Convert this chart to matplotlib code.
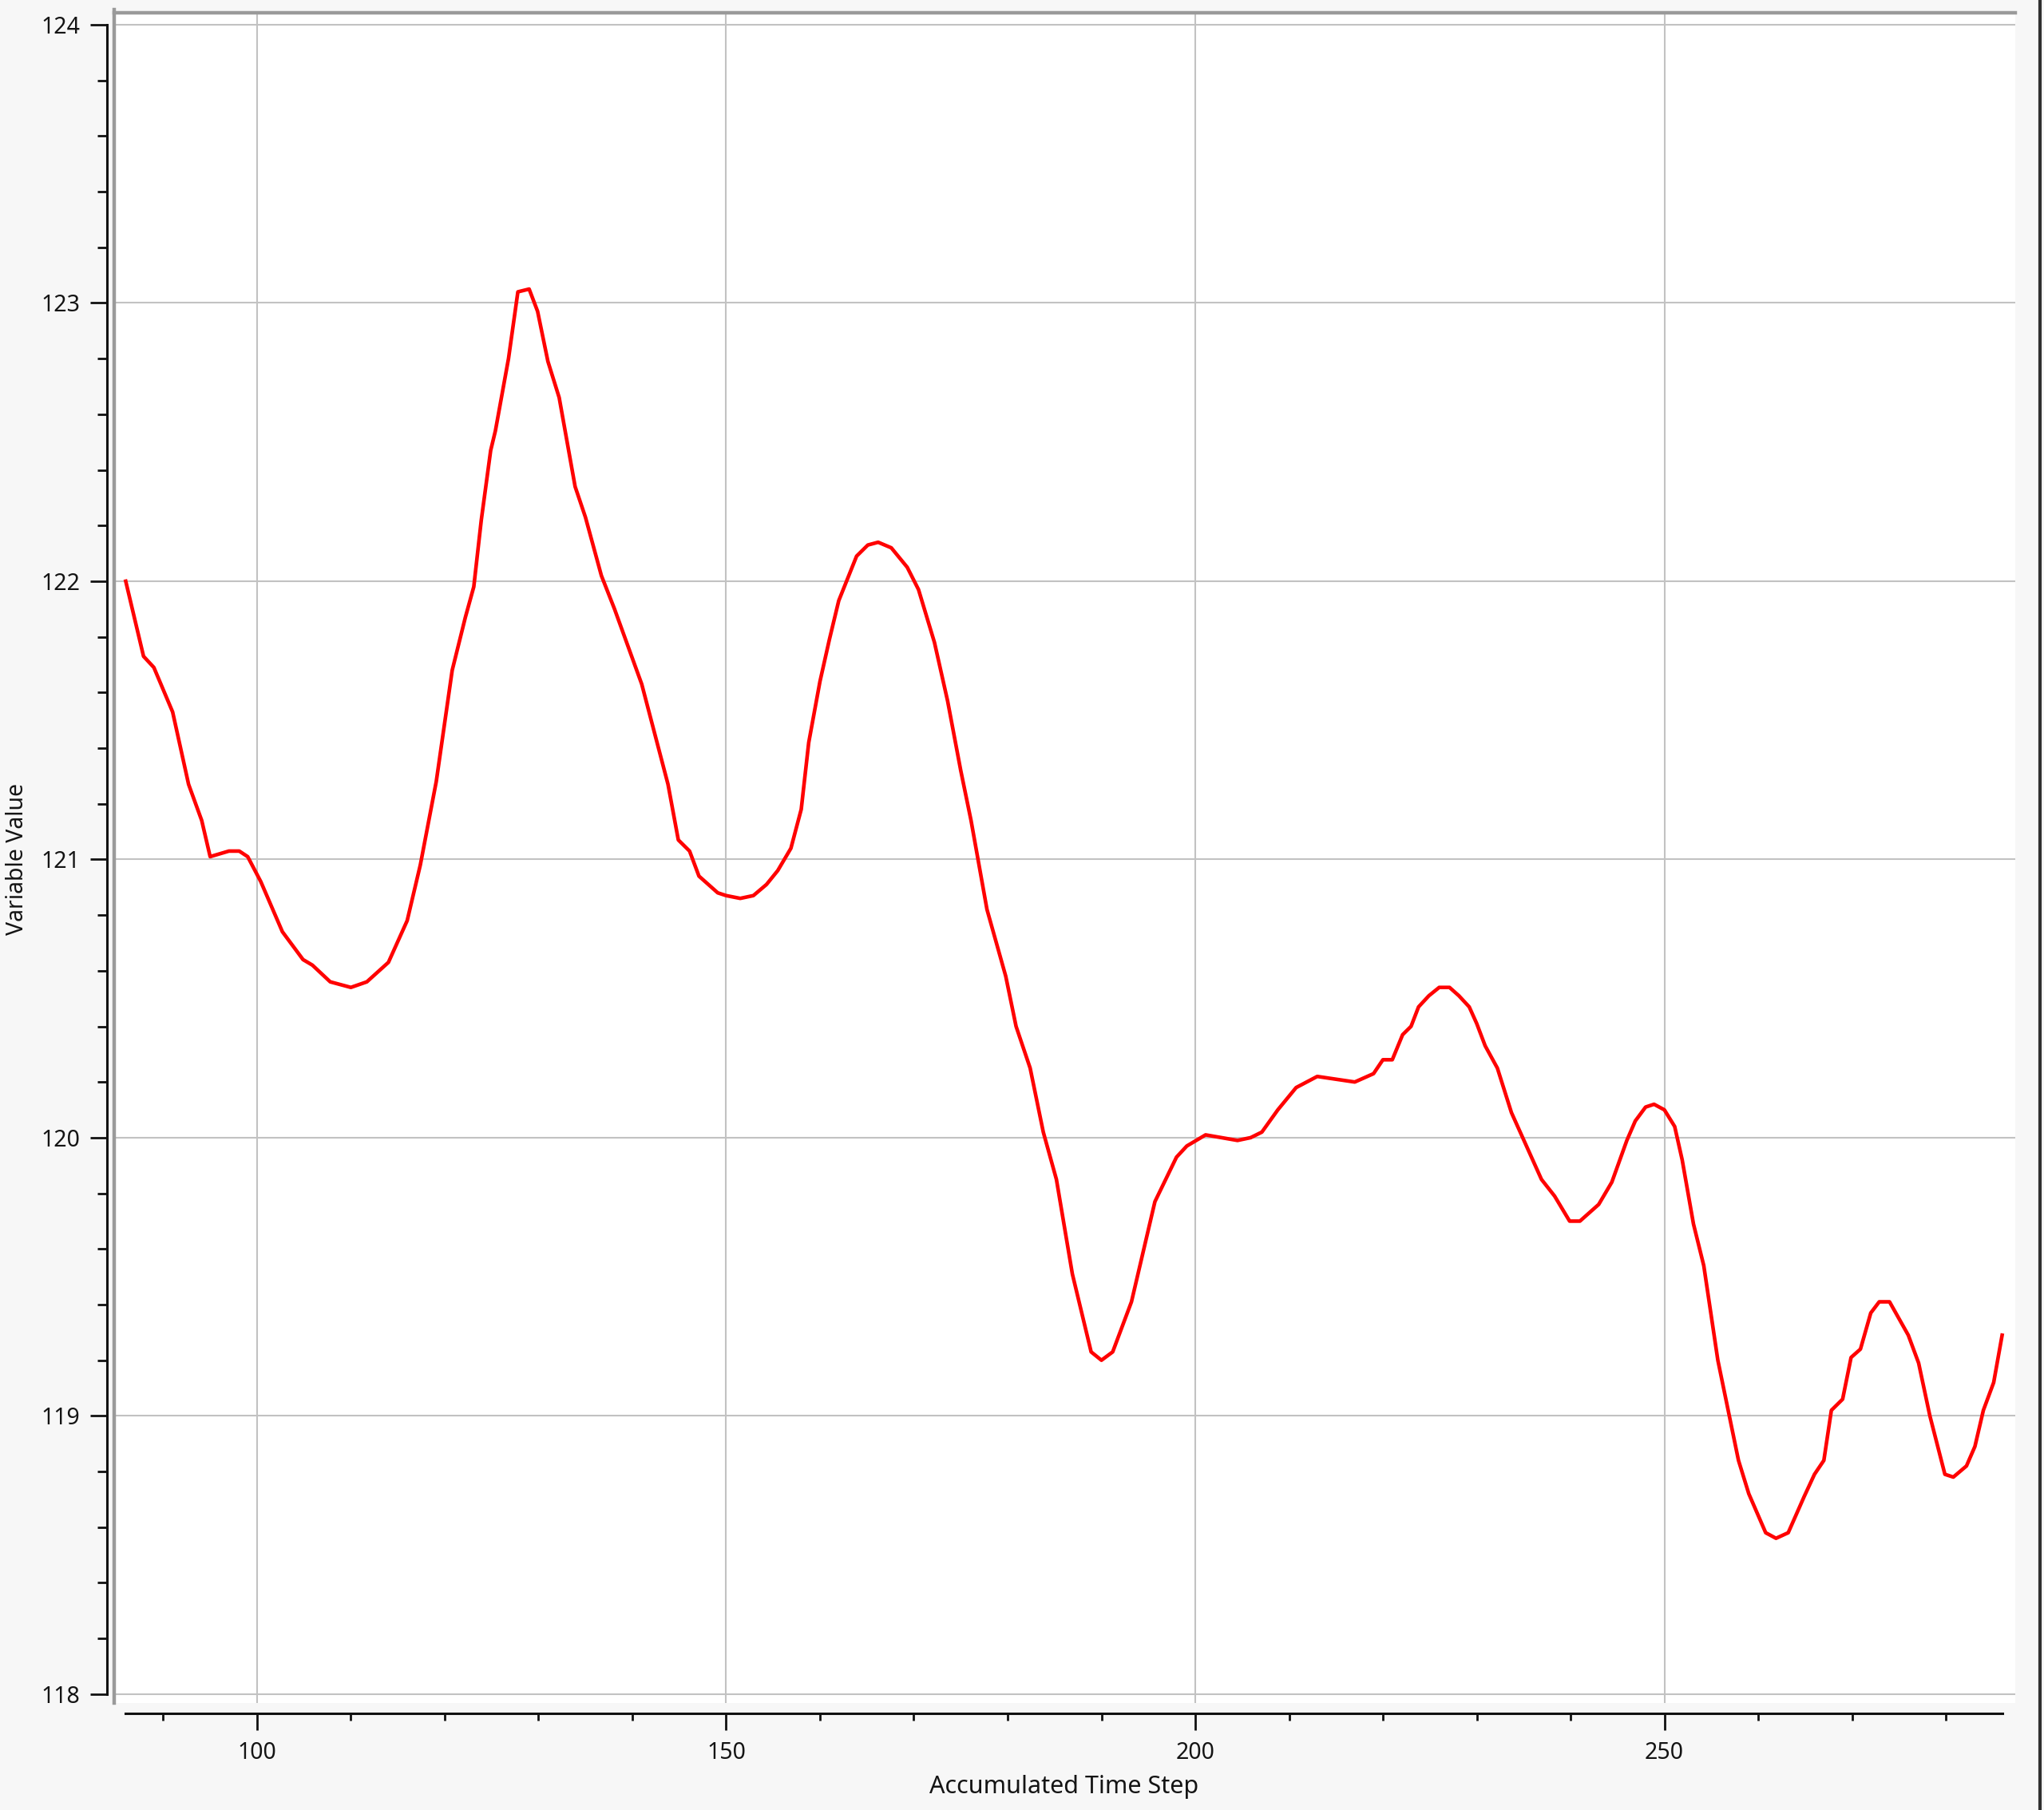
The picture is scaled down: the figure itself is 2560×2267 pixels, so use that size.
"""
Recreate the "Variable Value vs Accumulated Time Step" trace plot.
"""

import matplotlib
matplotlib.use("Agg")
import matplotlib.pyplot as plt
from matplotlib.ticker import MultipleLocator
from matplotlib.lines import Line2D

# ---- data
time_step = [
    86.0, 87.9, 89.0, 91.0, 92.7, 94.1, 95.0, 97.0, 98.1, 99.0,
    100.4, 102.7, 104.9, 105.9, 107.8, 110.0, 111.7, 114.0, 116.0, 117.4,
    119.1, 120.8, 122.2, 123.1, 123.9, 124.9, 125.4, 126.8, 127.8, 129.0,
    129.9, 131.0, 132.2, 133.9, 135.0, 136.7, 138.1, 141.0, 143.8, 144.9,
    146.1, 147.1, 148.1, 149.1, 150.0, 151.5, 152.9, 154.3, 155.5, 156.9,
    158.0, 158.8, 160.0, 161.0, 162.0, 163.9, 165.1, 166.2, 167.6, 169.3,
    170.5, 172.2, 173.6, 175.0, 176.1, 177.8, 179.8, 180.9, 182.4, 183.8,
    185.2, 186.9, 188.9, 190.0, 191.2, 193.2, 195.7, 198.0, 199.1, 201.1,
    202.8, 204.5, 205.9, 207.1, 208.8, 210.75, 213.0, 215.0, 217.0, 219.0,
    220.0, 221.0, 222.1, 223.0, 223.8, 224.9, 226.0, 227.1, 228.1, 229.2,
    230.0, 230.9, 232.2, 233.7, 234.9, 236.9, 238.3, 239.9, 241.0, 243.0,
    244.4, 246.0, 246.9, 248.0, 248.9, 250.0, 251.1, 251.9, 253.1, 254.2,
    255.7, 257.1, 257.9, 259.0, 260.8, 261.9, 263.2, 264.9, 266.0, 267.0,
    267.8, 269.0, 269.9, 270.9, 272.0, 272.9, 274.0, 276.0, 277.1, 278.3,
    279.9, 280.8, 282.2, 283.1, 284.0, 285.1, 286.0,
]
value = [
    122.00, 121.73, 121.69, 121.53, 121.27, 121.14, 121.01, 121.03, 121.03, 121.01,
    120.92, 120.74, 120.64, 120.62, 120.56, 120.54, 120.56, 120.63, 120.78, 120.98,
    121.28, 121.68, 121.87, 121.98, 122.22, 122.47, 122.54, 122.80, 123.04, 123.05,
    122.97, 122.79, 122.66, 122.34, 122.23, 122.02, 121.90, 121.63, 121.27, 121.07,
    121.03, 120.94, 120.91, 120.88, 120.87, 120.86, 120.87, 120.91, 120.96, 121.04,
    121.18, 121.42, 121.64, 121.79, 121.93, 122.09, 122.13, 122.14, 122.12, 122.05,
    121.97, 121.78, 121.57, 121.32, 121.14, 120.82, 120.58, 120.40, 120.25, 120.02,
    119.85, 119.51, 119.23, 119.20, 119.23, 119.41, 119.77, 119.93, 119.97, 120.01,
    120.00, 119.99, 120.00, 120.02, 120.10, 120.18, 120.22, 120.21, 120.20, 120.23,
    120.28, 120.28, 120.37, 120.40, 120.47, 120.51, 120.54, 120.54, 120.51, 120.47,
    120.41, 120.33, 120.25, 120.09, 120.00, 119.85, 119.79, 119.70, 119.70, 119.76,
    119.84, 119.99, 120.06, 120.11, 120.12, 120.10, 120.04, 119.92, 119.69, 119.54,
    119.20, 118.97, 118.84, 118.72, 118.58, 118.56, 118.58, 118.71, 118.79, 118.84,
    119.02, 119.06, 119.21, 119.24, 119.37, 119.41, 119.41, 119.29, 119.19, 119.00,
    118.79, 118.78, 118.82, 118.89, 119.02, 119.12, 119.29,
]

x_major = [100, 150, 200, 250]
y_major = [118, 119, 120, 121, 122, 123, 124]

W, H, DPI = 2560, 2267, 100
TEXT = "#141414"

plt.rcParams["font.family"] = ["Noto Sans", "DejaVu Sans"]

fig = plt.figure(figsize=(W / DPI, H / DPI), dpi=DPI, facecolor="#f7f7f7")
# plot area in pixels: x 143..2524, y 16..2133 (from top)
left, right, top, bottom = 143, 2524, 16, 2133
ax = fig.add_axes([left / W, 1 - bottom / H, (right - left) / W, (bottom - top) / H])
ax.set_facecolor("white")

ax.plot(time_step, value, color="#ff0000", lw=3.3, solid_joinstyle="round", zorder=3)

ax.set_xlim(84.77, 287.4)
ax.set_ylim(117.968, 124.043)

ax.set_xticks(x_major)
ax.set_yticks(y_major)
ax.xaxis.set_minor_locator(MultipleLocator(10))
ax.yaxis.set_minor_locator(MultipleLocator(0.2))
ax.grid(True, which="major", color="#c2c2c2", lw=1.5, zorder=1)

# detached axis lines like the original tool
ax.spines["right"].set_visible(False)
ax.spines["bottom"].set_position(("outward", 9.4))
ax.spines["left"].set_position(("outward", 6.5))
ax.spines["bottom"].set_bounds(86, 286)
ax.spines["left"].set_bounds(118, 124)
for side in ("bottom", "left"):
    ax.spines[side].set_color("#111111")
    ax.spines[side].set_linewidth(2.2)
ax.spines["top"].set_color("#9a9a9a")
ax.spines["top"].set_linewidth(3.2)
# gray frame edge on the left of the plot area
ax.add_line(Line2D([0, 0], [0, 1.002], transform=ax.transAxes,
                   color="#9a9a9a", lw=3.2, clip_on=False, zorder=4))

ax.tick_params(axis="both", which="major", length=15, width=2.0,
               color="#111111", labelsize=20.5, labelcolor=TEXT)
ax.tick_params(axis="both", which="minor", length=7.5, width=2.0, color="#111111")
ax.tick_params(axis="y", which="major", pad=9)
ax.tick_params(axis="x", which="major", pad=10)
ax.tick_params(axis="x", which="minor", length=6.5)
ax.tick_params(axis="y", which="minor", length=8.6)

ax.set_xlabel("Accumulated Time Step", fontsize=22, color=TEXT, va="center")
ax.xaxis.set_label_coords(0.4998, -0.0496)
ax.set_ylabel("Variable Value", fontsize=20.5, color=TEXT, va="center")
ax.yaxis.set_label_coords(-0.0512, 0.4993)

# window edge on the far right
fig.add_artist(Line2D([2555 / W, 2555 / W], [0, 1], transform=fig.transFigure,
                      color="#303030", lw=3.0))

fig.savefig("out.png", dpi=DPI, facecolor=fig.get_facecolor())
